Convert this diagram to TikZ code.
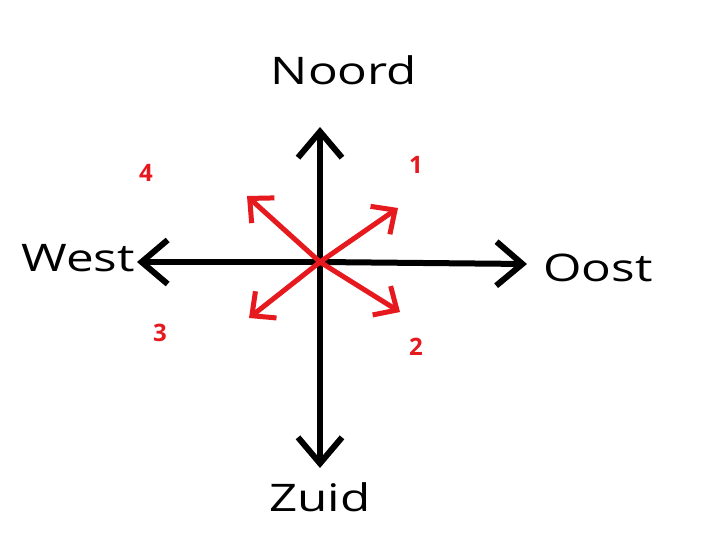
\documentclass[tikz,border=0pt]{standalone}
\usepackage{fontspec}
\setmainfont{Open Sans}
\usetikzlibrary{arrows.meta}
\definecolor{myred}{RGB}{230,25,30}
\begin{document}
\begin{tikzpicture}[x=1pt,y=-1pt,
  blackarrow/.style={line width=6pt,-{Straight Barb[length=26pt,width=44pt,line width=6pt]},line cap=round},
  redarrow/.style={myred,line width=5pt,-{Straight Barb[length=18pt,width=34pt,line width=5pt]},line cap=round},
  dirlabel/.style={font=\fontsize{38}{38}\selectfont,xscale=1.3,inner sep=0pt},
  numlabel/.style={text=myred,font=\fontsize{24}{24}\selectfont\bfseries,inner sep=0pt}]
\useasboundingbox (0,0) rectangle (728,546);
\fill[white] (0,0) rectangle (728,546);
\coordinate (c) at (320,262);
\coordinate (n) at (320,127);
\coordinate (s) at (320,468);
\coordinate (w) at (137,262);
\coordinate (e) at (527,264);
\draw[blackarrow] (c) -- (n);
\draw[blackarrow] (c) -- (s);
\draw[blackarrow] (c) -- (w);
\draw[blackarrow] (c) -- (e);
\coordinate (ne) at (398,208);
\coordinate (nw) at (247,196);
\coordinate (sw) at (249,318);
\coordinate (se) at (400,312);
\draw[redarrow] (c) -- (ne);
\draw[redarrow] (c) -- (nw);
\draw[redarrow] (c) -- (sw);
\draw[redarrow] (c) -- (se);
\node[dirlabel] (noord) at (344,70) {Noord};
\node[dirlabel] (zuid) at (320,497) {Zuid};
\node[dirlabel,anchor=east] (west) at (135,258) {West};
\node[dirlabel,anchor=west] (oost) at (543,268) {Oost};
\node[numlabel] (n1) at (416,165) {1};
\node[numlabel] (n2) at (416,347) {2};
\node[numlabel] (n3) at (160,333) {3};
\node[numlabel] (n4) at (146,173) {4};
\end{tikzpicture}
\end{document}
